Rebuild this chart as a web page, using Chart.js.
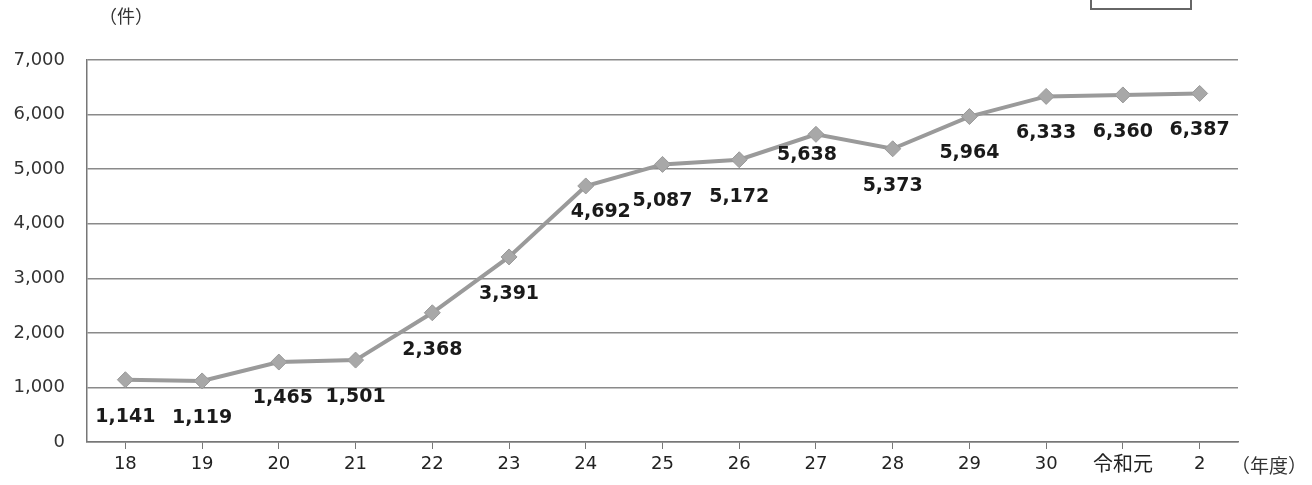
<!DOCTYPE html>
<html>
<head>
<meta charset="utf-8">
<script src="https://cdn.jsdelivr.net/npm/chart.js@4/dist/chart.umd.min.js"></script>
<style>
  html, body { margin: 0; padding: 0; background: #fff; }
  #wrap { position: relative; width: 1312px; height: 485px; }
  #box { position: absolute; left: 1090px; top: -4px; width: 98px; height: 10px; border: 2px solid #666; }
  .unit { position: absolute; font-family: "Noto Sans CJK JP", sans-serif; color: #333; font-size: 18px; }
</style>
</head>
<body>
<div id="wrap">
  <canvas id="chart" width="1312" height="485"></canvas>
  <div id="box"></div>
  <div class="unit" style="left:99px; top:2px;">（件）</div>
  <div class="unit" style="left:1231px; top:451px; font-size:19px;">（年度）</div>
</div>
<script>
const years = ['18', '19', '20', '21', '22', '23', '24', '25', '26', '27', '28', '29', '30', '令和元', '2'];
const counts = [1141, 1119, 1465, 1501, 2368, 3391, 4692, 5087, 5172, 5638, 5373, 5964, 6333, 6360, 6387];
const yTicks = [0, 1000, 2000, 3000, 4000, 5000, 6000, 7000];

const numFont = '"DejaVu Sans", sans-serif';
const jpFont = '"DejaVu Sans", "Noto Sans CJK JP", sans-serif';

// a few labels sit off the usual spot in the original
const labelNudge = { 2: [4, -1], 6: [15, -11], 9: [-9, -16] };

// value labels drawn under each point
const pointLabels = {
    id: 'pointLabels',
    afterDatasetsDraw(chart) {
        const { ctx } = chart;
        const meta = chart.getDatasetMeta(0);
        ctx.save();
        ctx.font = 'bold 19px ' + numFont;
        ctx.fillStyle = '#1a1a1a';
        ctx.textAlign = 'center';
        ctx.textBaseline = 'middle';
        meta.data.forEach((pt, i) => {
            const [dx, dy] = labelNudge[i] || [0, 0];
            ctx.fillText(counts[i].toLocaleString('en-US'), pt.x + dx, pt.y + 37 + dy);
        });
        ctx.restore();
    }
};

new Chart(document.getElementById('chart').getContext('2d'), {
    type: 'line',
    data: {
        labels: years,
        datasets: [{
            data: counts,
            borderColor: '#9a9a9a',
            borderWidth: 4,
            pointStyle: 'rectRot',
            pointRadius: 8,
            pointBackgroundColor: '#a8a8a8',
            pointBorderColor: '#999',
            pointBorderWidth: 1,
            tension: 0
        }]
    },
    options: {
        responsive: false,
        animation: false,
        layout: { padding: { left: 0, right: 74, top: 60, bottom: 0 } },
        plugins: {
            legend: { display: false },
            tooltip: { enabled: false }
        },
        scales: {
            x: {
                offset: true,
                grid: {
                    drawOnChartArea: false,
                    color: '#777',
                    tickLength: 7
                },
                border: { color: '#777', width: 1.5 },
                ticks: {
                    color: '#222',
                    font: c => ({ family: jpFont, size: /^\d+$/.test(years[c.index]) ? 18 : 20 }),
                    padding: 5,
                    maxRotation: 0,
                    autoSkip: false
                },
                afterFit: scale => { scale.height = 43; }
            },
            y: {
                min: 0,
                max: 7000,
                afterBuildTicks: scale => { scale.ticks = yTicks.map(v => ({ value: v })); },
                grid: {
                    color: '#8a8a8a',
                    lineWidth: 1.5,
                    drawTicks: false
                },
                border: { color: '#777', width: 1.5 },
                ticks: {
                    color: '#333',
                    font: { family: numFont, size: 18 },
                    padding: 22,
                    callback: v => v.toLocaleString('en-US')
                },
                afterFit: scale => { scale.width = 87; }
            }
        }
    },
    plugins: [pointLabels]
});
</script>
</body>
</html>
